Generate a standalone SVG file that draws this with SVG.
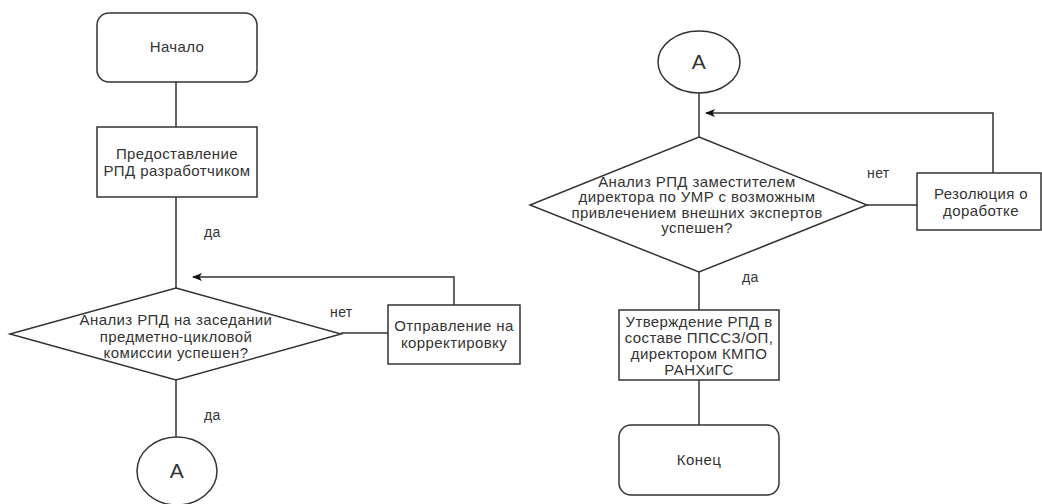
<svg xmlns="http://www.w3.org/2000/svg" width="1042" height="504" viewBox="0 0 1042 504">
<style>
.s{fill:#fff;stroke:#333;stroke-width:1.5}
.c{fill:none;stroke:#333;stroke-width:1.5}
.t{font-family:"Liberation Sans",Arial,sans-serif;font-size:15px;letter-spacing:0.4px;fill:#333;text-anchor:middle}
.l{font-family:"Liberation Sans",Arial,sans-serif;font-size:14px;letter-spacing:0.4px;fill:#333}
</style>
<defs>
<marker id="ah" markerWidth="10" markerHeight="8" refX="9" refY="4" orient="auto" markerUnits="userSpaceOnUse">
<path d="M0,0 L10,4 L0,8 L2.5,4 Z" fill="#111"/>
</marker>
</defs>
<rect width="1042" height="504" fill="#fff"/>
<g id="connectors">
<path class="c" d="M176,82 V127"/>
<path class="c" d="M176,197 V288"/>
<path class="c" d="M454,305 V277 H193" marker-end="url(#ah)"/>
<path class="c" d="M341,333 H388"/>
<path class="c" d="M176,380 V437"/>
<path class="c" d="M699,93 V137"/>
<path class="c" d="M993,173 V113 H706" marker-end="url(#ah)"/>
<path class="c" d="M867,205 H917"/>
<path class="c" d="M699,272 V310"/>
<path class="c" d="M699,380 V425"/>
<text class="l" x="204" y="237">да</text>
<text class="l" x="330" y="317">нет</text>
<text class="l" x="204" y="420">да</text>
<text class="l" x="867" y="178">нет</text>
<text class="l" x="742" y="282">да</text>
</g>
<g id="start">
<rect class="s" x="97" y="13" width="160" height="69" rx="12"/>
<text class="t" x="177" y="52">Начало</text>
</g>
<g id="provide">
<rect class="s" x="97" y="127" width="160" height="70"/>
<text class="t" x="177" y="159">Предоставление</text>
<text class="t" x="177" y="176">РПД разработчиком</text>
</g>
<g id="decision1">
<path class="s" d="M176,288 L341,334 L176,380 L10,334 Z"/>
<text class="t" x="176" y="325">Анализ РПД на заседании</text>
<text class="t" x="176" y="342">предметно-цикловой</text>
<text class="t" x="176" y="358">комиссии успешен?</text>
</g>
<g id="correct">
<rect class="s" x="388" y="305" width="132" height="59"/>
<text class="t" x="454" y="331">Отправление на</text>
<text class="t" x="454" y="348">корректировку</text>
</g>
<g id="connA1">
<ellipse class="s" cx="177" cy="471" rx="40" ry="34"/>
<text class="t" x="177" y="478" style="font-size:21px">А</text>
</g>
<g id="connA2">
<ellipse class="s" cx="699" cy="62" rx="41" ry="31"/>
<text class="t" x="699" y="69" style="font-size:21px">А</text>
</g>
<g id="decision2">
<path class="s" d="M699,137 L867,205 L699,272 L530,205 Z"/>
<text class="t" x="697" y="187">Анализ РПД заместителем</text>
<text class="t" x="697" y="202">директора по УМР с возможным</text>
<text class="t" x="697" y="218">привлечением внешних экспертов</text>
<text class="t" x="697" y="233">успешен?</text>
</g>
<g id="resolution">
<rect class="s" x="917" y="173" width="124" height="57"/>
<text class="t" x="981" y="199">Резолюция о</text>
<text class="t" x="981" y="216">доработке</text>
</g>
<g id="approve">
<rect class="s" x="619" y="310" width="160" height="70"/>
<text class="t" x="699" y="327">Утверждение РПД в</text>
<text class="t" x="699" y="343">составе ППССЗ/ОП,</text>
<text class="t" x="699" y="359">директором КМПО</text>
<text class="t" x="699" y="375">РАНХиГС</text>
</g>
<g id="end">
<rect class="s" x="619" y="425" width="160" height="70" rx="12"/>
<text class="t" x="699" y="465">Конец</text>
</g>
</svg>
